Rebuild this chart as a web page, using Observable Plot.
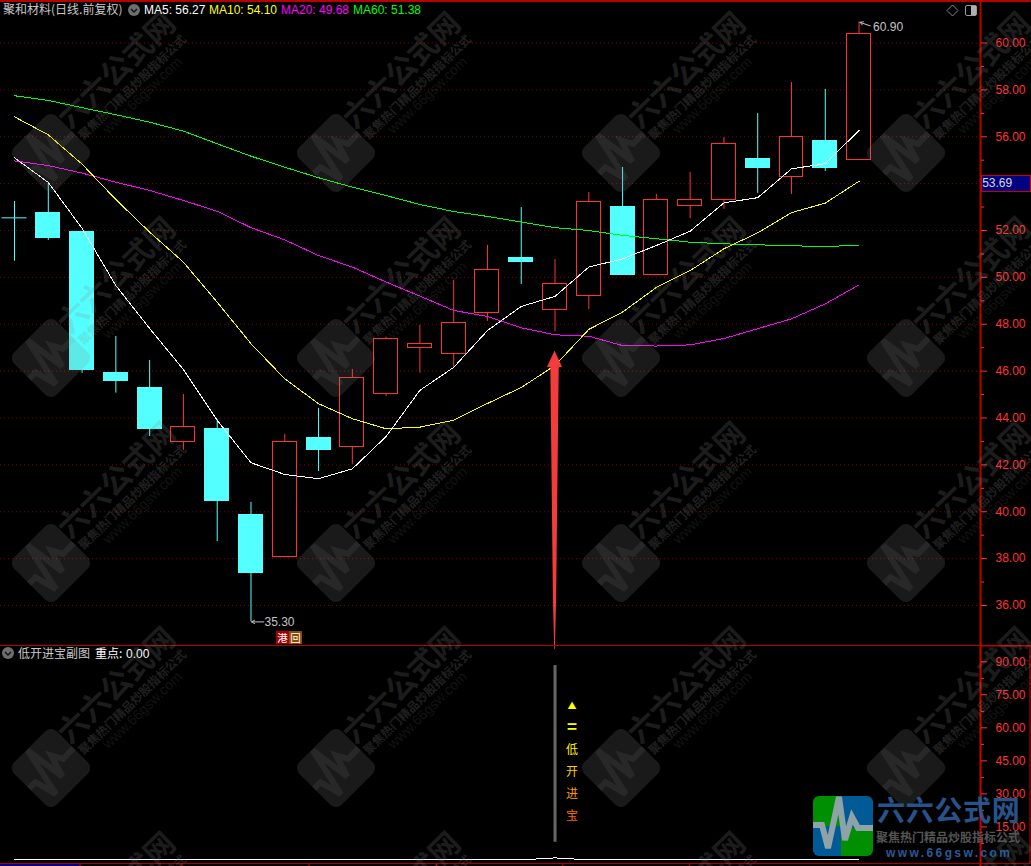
<!DOCTYPE html>
<html>
<head>
<meta charset="utf-8">
<script src="https://cdn.jsdelivr.net/npm/d3@7"></script>
<script src="https://cdn.jsdelivr.net/npm/@observablehq/plot@0.6"></script>
<style>
html,body{margin:0;padding:0;background:#000;}
#page{position:relative;width:1031px;height:866px;overflow:hidden;background:#000;}
#page svg{position:absolute;left:0;overflow:visible;background:transparent;}
</style>
</head>
<body>
<div id="page"></div>
<script>
// ---- candle data (26 trading days) ----
const opens  = [52.54,52.73,51.92,45.90,45.26,42.97,43.55,39.88,38.06,43.13,42.76,45.03,47.00,46.75,48.47,50.81,48.60,49.20,53.02,50.09,53.04,53.29,55.03,54.27,55.80,55.00];
const closes = [52.54,51.66,46.03,45.56,43.51,43.63,40.44,37.37,42.99,42.62,45.72,47.38,47.14,48.06,50.32,50.64,49.73,53.23,50.08,53.31,53.31,55.70,54.65,56.00,54.65,60.39];
const highs  = [53.24,54.02,51.92,47.48,46.45,45.00,43.93,40.40,43.30,44.41,46.07,47.45,47.95,49.87,51.36,52.98,50.76,53.62,54.69,53.54,54.48,55.97,56.99,58.31,58.02,60.90];
const lows   = [50.69,51.57,45.91,45.06,43.21,42.62,38.73,35.30,38.06,41.72,42.02,44.92,45.91,46.16,48.12,49.70,47.69,48.63,50.08,50.09,52.51,52.90,53.58,53.54,54.52,55.00];
// ---- moving averages ----
const ma5  = [55.10,54.05,52.09,49.65,47.82,46.07,43.90,42.09,41.59,41.41,41.83,43.21,45.18,46.16,47.73,48.76,49.19,50.44,50.79,51.36,51.97,53.18,53.40,54.63,54.85,56.27];
const ma10 = [56.85,56.08,54.83,53.32,51.93,50.65,48.94,47.17,45.67,44.61,43.97,43.54,43.61,43.90,44.62,45.30,46.24,47.78,48.52,49.57,50.29,51.22,51.90,52.76,53.17,54.10];
const ma20 = [54.97,54.77,54.45,54.06,53.71,53.28,52.82,52.12,51.60,50.93,50.44,49.80,49.20,48.59,48.33,47.85,47.55,47.49,47.09,47.07,47.12,47.39,47.81,48.23,48.87,49.68];
const ma60 = [57.75,57.55,57.24,56.94,56.62,56.24,55.70,55.17,54.70,54.25,53.85,53.49,53.11,52.81,52.60,52.36,52.12,52.00,51.79,51.65,51.50,51.43,51.39,51.35,51.31,51.38];
// ---- axes ----
const priceTicks = [36,38,40,42,44,46,48,50,52,54,56,58,60];
const priceTickLabels = [36,38,40,42,44,46,48,50,52,56,58,60];
const priceMinorTicks = [37,39,41,43,45,47,49,51,53,55,57,59];
const subTicks = [15,30,45,60,75,90];
const subMinorTicks = [7.5,22.5,37.5,52.5,67.5,82.5];
const dateTicks = [1.94,4.96,8.72,12.49,16.23,19.99];
// ---- sub chart ----
const subLine = [0,0,0,0,0,0,0,0,0,0,0,0,0,0,0,0,0.9,0,0,0,0,0,0,0,0,0];
const signalIndex = 16;
const signalTop = 88.3, signalBottom = 8;
const signalChars  = ["▲","=","低","开","进","宝"];
const signalLevels = [70,60,50,40,30,20];
const signalColors = ["#ffff00","#ffff00","#ffee00","#ffcc00","#ff9900","#ff6600"];
const signalSizes  = [9,17,12,12,12,12];
// ---- arrow outline: price level and half width in bars ----
const arrowPrice = [46.84,46.16,46.14,36.22,34.72,34.12];
const arrowHalf  = [0.005,0.222,0.124,0.047,0.020,0.010];

const up="#ff3232", down="#54ffff", axisRed="#ff3232", frameRed="#b80000", gridRed="#800000";
const cjk='"Noto Sans CJK SC","Liberation Sans",sans-serif';
const latin='"Liberation Sans",Arial,sans-serif';
const xScale={domain:[-0.415,28.595],axis:null};
const firstX=-0.415, lastX=28.595, edgeX=30.09;

const candles=opens.map((o,i)=>({i,o,c:closes[i],h:highs[i],l:lows[i],top:Math.max(o,closes[i]),bot:Math.min(o,closes[i]),col:closes[i]>o?up:down}));
const dojis=candles.filter(d=>d.top===d.bot);
const lineOf=a=>a.map((v,i)=>({i,v}));
const maLine=(a,stroke)=>Plot.line(lineOf(a),{x:"i",y:"v",stroke,strokeWidth:1,shapeRendering:"crispEdges"});
const arrowShape=arrowPrice.map((p,k)=>({p,a:signalIndex-arrowHalf[k],b:signalIndex+arrowHalf[k]}));

const main=Plot.plot({
  width:1031,height:645,marginLeft:0,marginRight:51,marginTop:0,marginBottom:0,
  style:{background:"transparent",fontFamily:latin,overflow:"visible"},
  x:xScale,y:{domain:[34.293,61.813],axis:null},
  marks:[
    Plot.ruleY(priceTicks,{stroke:gridRed,strokeDasharray:"1,3",strokeWidth:1}),
    Plot.ruleX(candles,{x:"i",y1:"top",y2:"h",stroke:"col",strokeWidth:1}),
    Plot.ruleX(candles,{x:"i",y1:"bot",y2:"l",stroke:"col",strokeWidth:1}),
    Plot.rect(candles,{x1:d=>d.i-0.355,x2:d=>d.i+0.355,y1:"bot",y2:"top",fill:d=>d.col===up?"#000":d.col,stroke:"col",strokeWidth:1,shapeRendering:"crispEdges"}),
    Plot.ruleY(dojis,{y:"top",x1:d=>d.i-0.37,x2:d=>d.i+0.37,stroke:"col",strokeWidth:1}),
    maLine(ma60,"#00ff00"),
    maLine(ma20,"#ff00ff"),
    maLine(ma10,"#ffff00"),
    maLine(ma5,"#ffffff"),
    Plot.areaX(arrowShape,{y:"p",x1:"a",x2:"b",fill:"#f53c3c",curve:"linear"}),
    Plot.arrow([{x1:7.38,x2:7.02,y1:35.30,y2:35.30}],{x1:"x1",y1:"y1",x2:"x2",y2:"y2",bend:0,headLength:5,stroke:"#c4c4c4",strokeWidth:1}),
    Plot.text([35.30],{x:()=>7,y:d=>d,text:d=>d.toFixed(2),dx:13.5,textAnchor:"start",fill:"#c4c4c4",fontSize:12}),
    Plot.arrow([{x1:25.33,x2:25.03,y1:60.73,y2:60.88}],{x1:"x1",y1:"y1",x2:"x2",y2:"y2",bend:0,headLength:5,stroke:"#c4c4c4",strokeWidth:1}),
    Plot.text([60.90],{x:()=>25,y:d=>d,text:d=>d.toFixed(2),dx:14,dy:5,textAnchor:"start",fill:"#c4c4c4",fontSize:12}),
    Plot.ruleY([61.79],{stroke:frameRed,strokeWidth:2,x1:firstX,x2:edgeX}),
    Plot.ruleY([34.293],{stroke:frameRed,strokeWidth:1,x1:firstX,x2:edgeX}),
    Plot.ruleX([lastX],{stroke:frameRed,strokeWidth:2}),
    Plot.axisY(priceMinorTicks,{anchor:"right",tickSize:3,tickFormat:null,stroke:axisRed,label:null}),
    Plot.axisY(priceTickLabels,{anchor:"right",tickSize:6,tickPadding:9,tickFormat:d3.format(".2f"),stroke:axisRed,fill:axisRed,fontSize:12,label:null,textAnchor:"start"}),
    Plot.rect([53.69],{x1:()=>lastX+0.03,x2:()=>edgeX,y1:()=>53.66,y2:()=>54.34,fill:"#000080",stroke:"#c80000",strokeWidth:1,shapeRendering:"crispEdges"}),
    Plot.text([53.69],{x:()=>lastX+0.05,y:()=>54.0,text:d=>d.toFixed(2),textAnchor:"start",fill:"#d8d8d8",fontSize:12})
  ]
});
main.style.top="0px";

const sub=Plot.plot({
  width:1031,height:221,marginLeft:0,marginRight:51,marginTop:0,marginBottom:0,
  style:{background:"transparent",fontFamily:latin,overflow:"visible"},
  x:xScale,y:{domain:[-3,97.41],axis:null},
  marks:[
    Plot.ruleX([signalIndex],{y1:signalBottom,y2:signalTop,stroke:"#666666",strokeWidth:3}),
    Plot.line(lineOf(subLine),{x:"i",y:"v",stroke:"#ffffff",strokeWidth:1,shapeRendering:"crispEdges"}),
    ...signalChars.map((ch,k)=>Plot.text([ch],{x:()=>signalIndex,y:()=>signalLevels[k],text:d=>d,dx:17,fill:signalColors[k],fontSize:signalSizes[k],fontFamily:cjk,fontWeight:ch==="="?"bold":"normal"})),
    Plot.rect([0],{x1:()=>firstX,x2:()=>1.94,y1:()=>-3,y2:()=>-2,fill:"#000080"}),
    Plot.ruleX(dateTicks,{y1:-3,y2:-1.68,stroke:frameRed,strokeWidth:1}),
    Plot.ruleY([-1.68],{x1:firstX,x2:edgeX,stroke:frameRed,strokeWidth:1}),
    Plot.ruleX([lastX],{stroke:"#cc0000",strokeWidth:2}),
    Plot.ruleX([edgeX-0.03],{y1:-1.68,y2:97.41,stroke:"#cc0000",strokeWidth:1}),
    Plot.ruleY([97.2],{x1:lastX,x2:edgeX,stroke:"#cc0000",strokeWidth:1}),
    Plot.axisY(subMinorTicks,{anchor:"right",tickSize:3,tickFormat:null,stroke:axisRed,label:null}),
    Plot.axisY(subTicks,{anchor:"right",tickSize:6,tickPadding:9,tickFormat:d3.format(".2f"),stroke:axisRed,fill:axisRed,fontSize:12,label:null,textAnchor:"start"})
  ]
});
sub.style.top="645px";

const page=document.getElementById("page");
page.append(main,sub);

// ---- decoration: panel headers, badge, watermark tiles, logo ----
const headerItems=[
  {t:"聚和材料(日线.前复权)",x:3,y:14,c:"#c8c8c8",f:cjk},
  {t:"MA5: 56.27",x:144,y:14,c:"#ffffff",f:latin},
  {t:"MA10: 54.10",x:209,y:14,c:"#ffff00",f:latin},
  {t:"MA20: 49.68",x:281,y:14,c:"#ff00ff",f:latin},
  {t:"MA60: 51.38",x:353,y:14,c:"#00ff00",f:latin},
  {t:"低开进宝副图",x:18,y:658,c:"#c8c8c8",f:cjk},
  {t:"重点:",x:95,y:658,c:"#ffffff",f:cjk},
  {t:"0.00",x:126,y:658,c:"#ffffff",f:latin}
];
const tileXs=[51,336,621,906], tileYs=[153,358,563,768,973];
const tiles=d3.cross(tileXs,tileYs);
const pulse=[[-30,-1],[-21,-1],[-15,22],[-4,-29],[2,14],[9,-9],[15,2],[30,2]];
const pulsePath=d3.line()(pulse);

const ov=d3.select(page).append("svg").attr("width",1031).attr("height",866).style("top","0px").style("pointer-events","none");
const defs=ov.append("defs");
defs.append("clipPath").attr("id","logoClip").append("rect").attr("x",-30).attr("y",-30).attr("width",60).attr("height",60).attr("rx",6);

ov.selectAll("text.h").data(headerItems).join("text").attr("class","h")
  .attr("x",d=>d.x).attr("y",d=>d.y).attr("fill",d=>d.c).attr("font-family",d=>d.f).attr("font-size",12).text(d=>d.t);
for(const [cx,cy] of [[134,10],[8,653]]){
  ov.append("circle").attr("cx",cx).attr("cy",cy).attr("r",6).attr("fill","#6e6e6e");
  ov.append("path").attr("d",`M${cx-3},${cy-1}L${cx},${cy+2}L${cx+3},${cy-1}`).attr("fill","none").attr("stroke","#111").attr("stroke-width",1.4);
}
ov.append("path").attr("d","M952.5,5L958,10.5L952.5,16L947,10.5Z").attr("fill","none").attr("stroke","#8a8a8a");
ov.append("rect").attr("x",965.5).attr("y",5.5).attr("width",11).attr("height",10).attr("rx",1.5).attr("fill","none").attr("stroke","#9a9a9a");
ov.append("rect").attr("x",971).attr("y",6).attr("width",5).attr("height",9).attr("fill","#b0b0b0");
// badge
ov.append("rect").attr("x",276).attr("y",631).attr("width",13).attr("height",13).attr("fill","#a00000");
ov.append("rect").attr("x",289).attr("y",631).attr("width",13).attr("height",13).attr("fill","#8a4a00");
ov.append("text").attr("x",282.5).attr("y",641.5).attr("text-anchor","middle").attr("font-size",10.5).attr("font-family",cjk).attr("fill","#fff").text("港");
ov.append("text").attr("x",295.5).attr("y",641.5).attr("text-anchor","middle").attr("font-size",10.5).attr("font-family",cjk).attr("fill","#fff").text("回");

// watermark
const wm=ov.append("g");
for(const [x,y] of tiles){
  const g=wm.append("g").attr("transform",`translate(${x},${y})`);
  const r=g.append("g").attr("transform","rotate(-45)");
  r.append("rect").attr("x",-30).attr("y",-30).attr("width",60).attr("height",60).attr("rx",8).attr("fill","#8c8c8c").attr("opacity",0.19);
  r.append("path").attr("d",pulsePath).attr("fill","none").attr("stroke","#8c8c8c").attr("stroke-width",6).attr("stroke-linejoin","miter").attr("opacity",0.13);
  const lab=(t,ox,oy,size,weight,fam,op)=>g.append("text").attr("transform",`translate(${ox},${oy}) rotate(-44)`).attr("text-anchor","middle").attr("dominant-baseline","middle")
    .attr("font-size",size).attr("font-weight",weight).attr("font-family",fam).attr("fill","#8c8c8c").attr("opacity",op).text(t);
  lab("六六公式网",67,-81,30,"bold",cjk,0.2);
  lab("聚焦热门精品炒股指标公式",82,-65,12,"bold",cjk,0.22);
  lab("www.66gsw.com",92,-57,14,"normal",latin,0.13);
}

// logo
const logo=ov.append("g").attr("transform","translate(843,826)");
const lg=logo.append("g").attr("clip-path","url(#logoClip)");
[[-30,-30,28,30,"#008f00"],[-2,-30,32,32,"#005a96"],[-30,0,28,30,"#005a96"],[-2,2,32,28,"#008f00"]].forEach(q=>
  lg.append("rect").attr("x",q[0]).attr("y",q[1]).attr("width",q[2]).attr("height",q[3]).attr("fill",q[4]));
lg.append("path").attr("d",pulsePath).attr("fill","none").attr("stroke","#8ea2a8").attr("stroke-width",6);
ov.append("text").attr("x",877).attr("y",821).attr("font-size",28).attr("font-weight","bold").attr("font-family",cjk).attr("letter-spacing",0.7).attr("fill","#2b5a96").attr("opacity",0.92).text("六六公式网");
ov.append("text").attr("x",876).attr("y",842).attr("font-size",12).attr("font-weight","bold").attr("font-family",cjk).attr("fill","#555555").text("聚焦热门精品炒股指标公式");
ov.append("text").attr("x",886).attr("y",857).attr("font-size",12).attr("font-weight","bold").attr("font-family",latin).attr("letter-spacing",2.4).attr("fill","#2b5a96").text("www.66gsw.com");
</script>
</body>
</html>
